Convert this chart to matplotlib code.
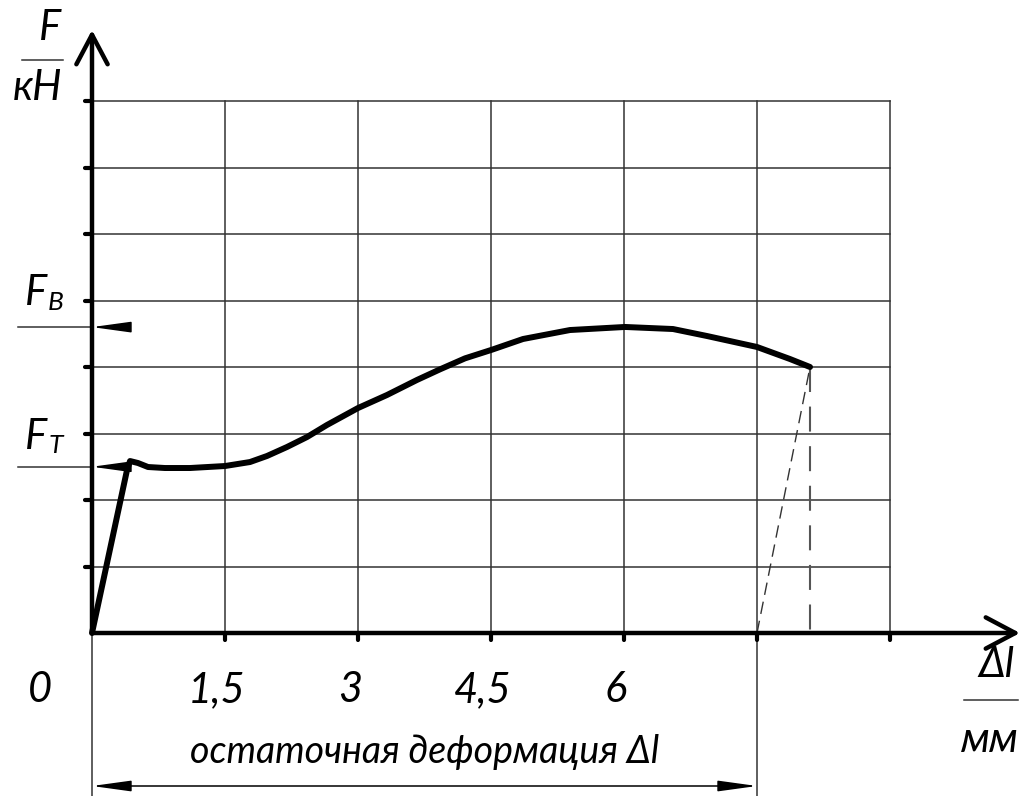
import matplotlib
matplotlib.use('Agg')
import matplotlib.pyplot as plt

# tensile test diagram: force F vs elongation dl
dl_mm = [0.0, 0.395, 0.429, 0.519, 0.632, 0.823, 1.105, 1.5, 1.782, 1.974, 2.199, 2.425, 2.65,
         3.0, 3.327, 3.665, 3.925, 4.207, 4.511, 4.861, 5.391, 6.011, 6.553, 6.936, 7.5, 7.872, 8.098]
force = [0.0, 2.451, 2.586, 2.556, 2.496, 2.481, 2.481, 2.511, 2.571, 2.662, 2.797, 2.947, 3.128,
         3.383, 3.579, 3.805, 3.965, 4.13, 4.26, 4.421, 4.556, 4.602, 4.571, 4.466, 4.301, 4.12, 4.0]

x_ticks = [1.5, 3.0, 4.5, 6.0, 7.5, 9.0]
x_labels = ['1,5', '3', '4,5', '6']
y_grid = [1, 2, 3, 4, 5, 6, 7, 8]
F_max = 4.60   # F_B
F_yield = 2.50  # F_T
residual = 7.5  # остаточная деформация

plt.rcParams['font.family'] = ['Lato', 'DejaVu Sans']
plt.rcParams['font.style'] = 'italic'

# pixel scale of the sheet: 1.5 mm = 133 px, 1 unit = 66.5 px, origin at (92, 633)
sx, sy = 133 / 1.5, 66.5
fig = plt.figure(figsize=(10.27, 7.96), dpi=100)
ax = fig.add_axes([0, 0, 1, 1])
ax.set_xlim(-92 / sx, (1027 - 92) / sx)
ax.set_ylim((633 - 796) / sy, 633 / sy)
ax.axis('off')

gc = '#333333'
# grid
for x in x_ticks:
    ax.plot([x, x], [0, 8], color=gc, lw=1.1, zorder=1)
for y in y_grid:
    ax.plot([0, 9], [y, y], color=gc, lw=1.1, zorder=1)

# axes with open arrowheads
ax.annotate('', xy=(0, 603 / sy), xytext=(0, 0),
            arrowprops=dict(arrowstyle='->,head_length=0.85,head_width=0.45', lw=3.2, color='black',
                            shrinkA=0, shrinkB=0, mutation_scale=25))
ax.annotate('', xy=(928 / sx, 0), xytext=(0, 0),
            arrowprops=dict(arrowstyle='->,head_length=0.85,head_width=0.45', lw=3.2, color='black',
                            shrinkA=0, shrinkB=0, mutation_scale=25))
# tick marks
for y in y_grid:
    ax.plot([-7 / sx, 0], [y, y], color='black', lw=3, solid_capstyle='round', zorder=3)
for x in x_ticks:
    ax.plot([x, x], [0, -7 / sy], color='black', lw=3, solid_capstyle='round', zorder=3)

# the curve
ax.plot(dl_mm, force, color='black', lw=4.3, solid_capstyle='round', solid_joinstyle='round', zorder=4)

# unloading line and projection
ax.plot([residual, dl_mm[-1]], [0, force[-1]], color='#333333', lw=1, dashes=(9, 5), zorder=2)
ax.plot([dl_mm[-1], dl_mm[-1]], [force[-1], 0], color='#555555', lw=1.5, dashes=(12, 7), zorder=2)

# F_B and F_T leaders
for fv in [F_max, F_yield]:
    ax.plot([-74 / sx, 0], [fv, fv], color=gc, lw=1.1, zorder=2)
    ax.annotate('', xy=(0, fv), xytext=(34 / sx, fv),
                arrowprops=dict(arrowstyle='-|>,head_length=1.6,head_width=0.22', lw=1.1, color='black',
                                shrinkA=0, shrinkB=0, mutation_scale=15))

# dimension line for residual deformation
ax.plot([0, 0], [0, -163 / sy], color=gc, lw=1.1)
ax.plot([residual, residual], [0, -163 / sy], color=gc, lw=1.1)
ax.annotate('', xy=(0, -153 / sy), xytext=(residual, -153 / sy),
            arrowprops=dict(arrowstyle='<|-|>,head_length=1.6,head_width=0.22', lw=1.1, color='black',
                            shrinkA=0, shrinkB=0, mutation_scale=15))

fs = 30
# y label F / кН
ax.text(-42 / sx, 605 / sy, 'F', fontsize=fs, ha='center', va='center')
ax.plot([-70 / sx, -29 / sx], [573 / sy, 573 / sy], color=gc, lw=1.1)
ax.text(-54 / sx, 545 / sy, 'кН', fontsize=fs, ha='center', va='center')

ax.text(-56 / sx, F_max + 34 / sy, 'F', fontsize=fs, ha='center', va='center')
ax.text(-36 / sx, F_max + 25 / sy, 'В', fontsize=19, ha='center', va='center')
ax.text(-56 / sx, F_yield + 30 / sy, 'F', fontsize=fs, ha='center', va='center')
ax.text(-36 / sx, F_yield + 21 / sy, 'Т', fontsize=19, ha='center', va='center')

# x labels
ax.text(-52 / sx, -57 / sy, '0', fontsize=fs, ha='center', va='center')
for x, lab in zip(x_ticks, x_labels):
    ax.text(x - 8 / sx, -57 / sy, lab, fontsize=fs, ha='center', va='center')
ax.text(996 / sx - 92 / sx, -32 / sy, 'Δl', fontsize=fs, ha='center', va='center')
ax.plot([872 / sx, 926 / sx], [-67 / sy, -67 / sy], color=gc, lw=1.1)
ax.text(898 / sx, -107 / sy, 'мм', fontsize=fs, ha='center', va='center')
ax.text(333 / sx, -119 / sy, 'остаточная деформация Δl', fontsize=27, ha='center', va='center')

fig.savefig('out.png', dpi=100)
